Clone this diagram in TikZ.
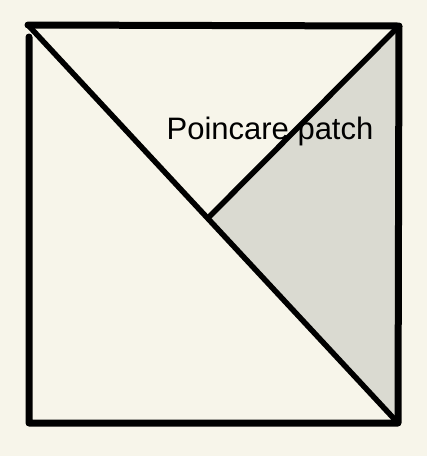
\documentclass[tikz,border=0pt]{standalone}
\usepackage{fontspec}
\setmainfont{Liberation Sans}
\usepackage{xcolor}
\definecolor{paper}{HTML}{F7F5EA}
\definecolor{patch}{HTML}{DADAD1}

\begin{document}
\begin{tikzpicture}[x=1pt,y=-1pt]
    % Page and background
    \useasboundingbox (0,0) rectangle (427,456);
    \fill[paper] (0,0) rectangle (427,456);

    % Key points
    \coordinate (tl) at (28,25);
    \coordinate (tr) at (399,26);
    \coordinate (br) at (398,423);
    \coordinate (bl) at (29,423);
    \coordinate (mid) at (208,218);

    % Poincare patch region (shaded)
    \fill[patch] (tr) -- (mid) -- (br) -- cycle;

    % Square
    \draw[line width=7pt, line cap=round, line join=round] (tl) -- (tr) -- (br) -- (bl) -- (29,37);

    % Diagonals
    \draw[line width=5.5pt, line cap=round] (tl) -- (br);
    \draw[line width=5.5pt, line cap=round] (tr) -- (mid);

    % Label
    \node[font=\fontsize{31}{33}\selectfont] (label) at (270,131) {Poincare patch};
\end{tikzpicture}
\end{document}
